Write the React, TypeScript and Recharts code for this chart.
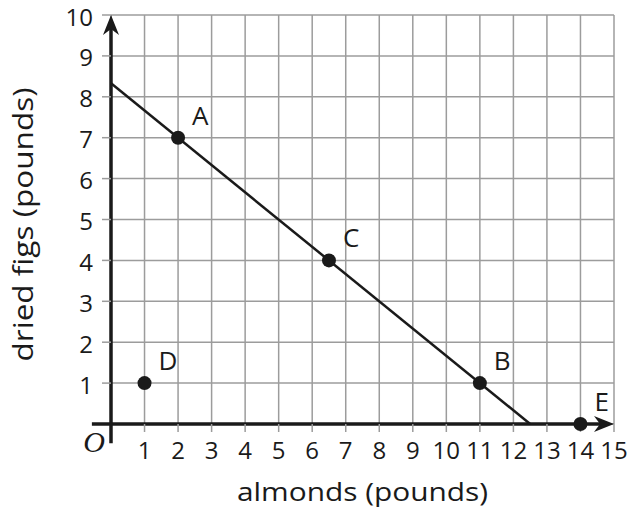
import {
  CartesianGrid,
  ComposedChart,
  Line,
  ReferenceDot,
  ReferenceLine,
  Scatter,
  XAxis,
  YAxis,
} from "recharts";

const xTicks = [1, 2, 3, 4, 5, 6, 7, 8, 9, 10, 11, 12, 13, 14, 15];
const yTicks = [1, 2, 3, 4, 5, 6, 7, 8, 9, 10];

// the budget line through A, C and B
const lineData = [
  { x: 0, y: 8.33 },
  { x: 12.5, y: 0 },
];

const points = [
  { x: 2, y: 7, label: "A" },
  { x: 11, y: 1, label: "B" },
  { x: 6.5, y: 4, label: "C" },
  { x: 1, y: 1, label: "D" },
  { x: 14, y: 0, label: "E" },
];

const FONT = "'Open Sans', sans-serif";
const INK = "#1a1a1a";
const GRID = "#9c9c9c";

function arrowShape(dir: "up" | "right") {
  return (p: any) => {
    const { x1, y1, x2, y2 } = p;
    const len = 20;
    const half = 8;
    const notch = 14;
    let pts: string;
    let ex = x2;
    let ey = y2;
    if (dir === "up") {
      pts = `${x2},${y2} ${x2 - half},${y2 + len} ${x2},${y2 + notch} ${x2 + half},${y2 + len}`;
      ey = y2 + notch;
    } else {
      pts = `${x2},${y2} ${x2 - len},${y2 - half} ${x2 - notch},${y2} ${x2 - len},${y2 + half}`;
      ex = x2 - notch;
    }
    return (
      <g>
        <line x1={x1} y1={y1} x2={ex} y2={ey} stroke={INK} strokeWidth={3.5} />
        <polygon points={pts} fill={INK} />
      </g>
    );
  };
}

function PointShape(props: any) {
  const { cx, cy, payload } = props;
  return (
    <g>
      <circle cx={cx} cy={cy} r={7} fill={INK} />
      <text x={cx + 14} y={cy - 13} fontSize={26} fontFamily={FONT} fill={INK}>
        {payload.label}
      </text>
    </g>
  );
}

export default function App() {
  return (
    <div style={{ position: "absolute", left: 0, top: 0 }}>
      <ComposedChart
        width={631}
        height={508}
        margin={{ top: 15, right: 17, left: 0, bottom: 0 }}
      >
        <CartesianGrid stroke={GRID} strokeWidth={1.5} />
        <XAxis
          dataKey="x"
          type="number"
          domain={[0, 15]}
          ticks={xTicks}
          interval={0}
          height={84}
          axisLine={false}
          tickLine={{ stroke: GRID, strokeWidth: 1.5 }}
          tickSize={8}
          tickMargin={10}
          tick={{ fontSize: 24, fontFamily: FONT, fill: INK }}
          label={{
            content: ({ viewBox }: any) => (
              <text
                x={viewBox.x + viewBox.width / 2}
                y={viewBox.y + 77}
                textAnchor="middle"
                fontSize={26}
                textLength={251}
                lengthAdjust="spacingAndGlyphs"
                fontFamily={FONT}
                fill={INK}
              >
                almonds (pounds)
              </text>
            ),
          }}
        />
        <YAxis
          dataKey="y"
          type="number"
          domain={[0, 10]}
          ticks={yTicks}
          interval={0}
          width={111}
          axisLine={false}
          tickLine={{ stroke: GRID, strokeWidth: 1.5 }}
          tickSize={9}
          tickMargin={9}
          tick={{ fontSize: 24, fontFamily: FONT, fill: INK, dy: 2 }}
          label={{
            content: ({ viewBox }: any) => {
              const cx = viewBox.x + 33;
              const cy = viewBox.y + viewBox.height / 2 + 5;
              return (
                <text
                  x={cx}
                  y={cy}
                  transform={`rotate(-90 ${cx} ${cy})`}
                  textAnchor="middle"
                  fontSize={28}
                  textLength={274}
                  lengthAdjust="spacingAndGlyphs"
                  fontFamily={FONT}
                  fill={INK}
                >
                  dried figs (pounds)
                </text>
              );
            },
          }}
        />
        <ReferenceLine
          segment={[
            { x: -0.57, y: 0 },
            { x: 15, y: 0 },
          ]}
          ifOverflow="visible"
          shape={arrowShape("right")}
        />
        <ReferenceLine
          segment={[
            { x: 0, y: -0.47 },
            { x: 0, y: 10 },
          ]}
          ifOverflow="visible"
          shape={arrowShape("up")}
        />
        <ReferenceDot
          x={0}
          y={0}
          ifOverflow="visible"
          shape={(p: any) => (
            <text
              x={p.cx - 6}
              y={p.cy + 28}
              textAnchor="end"
              fontSize={30}
              fontStyle="italic"
              fontFamily="'Liberation Serif', serif"
              fill={INK}
            >
              O
            </text>
          )}
        />
        <Line
          data={lineData}
          dataKey="y"
          type="linear"
          stroke={INK}
          strokeWidth={2.5}
          dot={false}
          activeDot={false}
          isAnimationActive={false}
        />
        <Scatter
          data={points}
          dataKey="y"
          shape={PointShape}
          isAnimationActive={false}
        />
      </ComposedChart>
    </div>
  );
}
